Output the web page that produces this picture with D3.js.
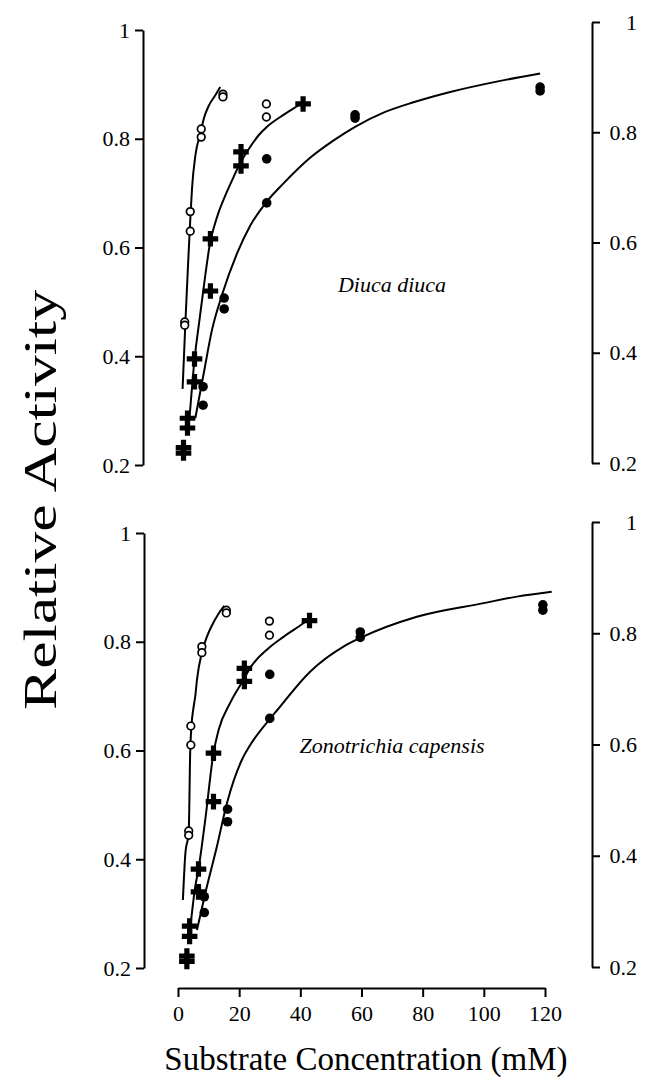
<!DOCTYPE html>
<html>
<head>
<meta charset="utf-8">
<script src="https://cdn.jsdelivr.net/npm/d3@7"></script>
<style>
  html, body { margin: 0; padding: 0; background: #fff; }
  svg { display: block; }
  text { font-family: "Liberation Serif", "Times New Roman", serif; fill: #000; }
</style>
</head>
<body>
<script>
// Axis ticks
const xTicks = [0, 20, 40, 60, 80, 100, 120];
const yTicks = [0.2, 0.4, 0.6, 0.8, 1];

// Diuca diuca: [substrate mM, relative activity]
const diucaOpen = [[2.2,0.463],[2.2,0.457],[4.0,0.666],[4.0,0.630],[7.6,0.818],[7.6,0.803],[14.7,0.882],[14.7,0.877],[28.9,0.864],[28.9,0.840]];
const diucaCross = [[1.8,0.232],[1.8,0.222],[3.1,0.286],[3.1,0.268],[5.4,0.395],[5.4,0.353],[10.6,0.616],[10.6,0.520],[20.6,0.776],[20.6,0.750],[40.9,0.864]];
const diucaFilled = [[8.2,0.344],[8.2,0.310],[15.1,0.507],[15.1,0.487],[29.0,0.763],[29.0,0.682],[57.9,0.844],[57.9,0.838],[118.4,0.895],[118.4,0.888]];
const diucaOpenFit = [[1.5,0.34],[2.4,0.46],[3.3,0.57],[4.0,0.65],[4.6,0.71],[5.7,0.77],[7.3,0.81],[8.6,0.84],[10.0,0.86],[12.2,0.88],[13.8,0.895]];
const diucaCrossFit = [[3.8,0.289],[5.4,0.394],[7.1,0.470],[8.9,0.548],[10.6,0.612],[12.0,0.642],[13.3,0.665],[15.8,0.700],[18.2,0.730],[20.6,0.758],[23.6,0.785],[26.3,0.806],[29.1,0.822],[34.5,0.844],[37.8,0.856],[41.0,0.866]];
const diucaFilledFit = [[5.65,0.286],[8.2,0.362],[11.1,0.448],[14.4,0.513],[19.3,0.589],[23.6,0.640],[29.1,0.685],[34.5,0.718],[43.2,0.765],[50.9,0.797],[57.9,0.822],[67.2,0.848],[77.0,0.867],[89.0,0.886],[105.0,0.906],[118.4,0.920]];

// Zonotrichia capensis
const zonoOpen = [[3.5,0.452],[3.5,0.444],[4.2,0.645],[4.2,0.610],[7.8,0.791],[7.8,0.780],[15.8,0.858],[15.8,0.853],[29.9,0.838],[29.9,0.812]];
const zonoCross = [[2.9,0.222],[2.9,0.212],[3.8,0.277],[3.8,0.258],[6.7,0.382],[6.7,0.340],[11.6,0.595],[11.6,0.506],[21.7,0.751],[21.7,0.727],[43.0,0.839]];
const zonoFilled = [[8.6,0.331],[8.6,0.302],[16.2,0.492],[16.2,0.469],[30.0,0.740],[30.0,0.659],[59.6,0.818],[59.6,0.808],[119.3,0.868],[119.3,0.858]];
const zonoOpenFit = [[1.6,0.325],[2.4,0.41],[3.5,0.45],[4.0,0.60],[4.4,0.645],[5.1,0.68],[5.65,0.70],[6.2,0.73],[7.8,0.78],[9.5,0.81],[11.1,0.83],[13.3,0.852],[15.1,0.866]];
const zonoCrossFit = [[4.0,0.273],[5.65,0.350],[6.7,0.382],[8.9,0.472],[11.6,0.595],[13.3,0.638],[17.1,0.688],[21.4,0.730],[23.6,0.752],[29.6,0.788],[34.5,0.809],[41.0,0.834],[42.2,0.839]];
const zonoFilledFit = [[6.2,0.270],[8.9,0.337],[12.7,0.423],[16.0,0.503],[20.9,0.583],[23.6,0.610],[30.2,0.659],[32.4,0.674],[43.2,0.745],[54.1,0.791],[59.6,0.807],[78.1,0.846],[99.9,0.871],[110.8,0.883],[122.2,0.892]];

const W = 652, H = 1078;
const svg = d3.select("body").append("svg").attr("width", W).attr("height", H);

const x = d3.scaleLinear().domain([0, 120]).range([178, 545]);

const panels = [
  { name: "Diuca diuca", yLeft: [465, 30], yRight: [463, 22], leftX: 143, rightX: 592, labelX: 392, labelY: 292,
    open: diucaOpen, cross: diucaCross, filled: diucaFilled,
    fits: [diucaOpenFit, diucaCrossFit, diucaFilledFit] },
  { name: "Zonotrichia capensis", yLeft: [968, 533], yRight: [967, 522], leftX: 144, rightX: 592, labelX: 392, labelY: 753,
    open: zonoOpen, cross: zonoCross, filled: zonoFilled,
    fits: [zonoOpenFit, zonoCrossFit, zonoFilledFit] }
];

const fmt = d => d === 1 ? "1" : d3.format(".1f")(d);
const tickFont = 22;

function styleAxis(g) {
  g.selectAll("path.domain").attr("stroke", "#000").attr("stroke-width", 2);
  g.selectAll(".tick line").attr("stroke", "#000").attr("stroke-width", 2);
  g.selectAll(".tick text").attr("font-size", tickFont).attr("font-family", "Liberation Serif");
}

panels.forEach(p => {
  const y = d3.scaleLinear().domain([0.2, 1]).range(p.yLeft);
  const yR = d3.scaleLinear().domain([0.2, 1]).range(p.yRight);

  const gl = svg.append("g").attr("transform", `translate(${p.leftX},0)`)
    .call(d3.axisLeft(y).tickValues(yTicks).tickFormat(fmt).tickSize(8).tickSizeOuter(0).tickPadding(5));
  styleAxis(gl);

  const gr = svg.append("g").attr("transform", `translate(${p.rightX},0)`)
    .call(d3.axisRight(yR).tickValues(yTicks).tickFormat(fmt).tickSize(8).tickSizeOuter(0).tickPadding(5));
  styleAxis(gr);
  gr.selectAll(".tick text").attr("text-anchor", "end").attr("x", 45);

  // fitted curves
  const line = d3.line().x(d => x(d[0])).y(d => y(d[1])).curve(d3.curveMonotoneX);
  svg.append("g").selectAll("path").data(p.fits).join("path")
    .attr("d", line).attr("fill", "none").attr("stroke", "#000").attr("stroke-width", 2);

  // open circles
  svg.append("g").selectAll("circle").data(p.open).join("circle")
    .attr("cx", d => x(d[0])).attr("cy", d => y(d[1])).attr("r", 3.8)
    .attr("fill", "#fff").attr("stroke", "#000").attr("stroke-width", 1.7);

  // crosses
  const cross = d3.symbol().type(d3.symbolCross).size(135);
  svg.append("g").selectAll("path").data(p.cross).join("path")
    .attr("d", cross).attr("transform", d => `translate(${x(d[0])},${y(d[1])})`).attr("fill", "#000");

  // filled circles
  svg.append("g").selectAll("circle").data(p.filled).join("circle")
    .attr("cx", d => x(d[0])).attr("cy", d => y(d[1])).attr("r", 4.8).attr("fill", "#000");

  svg.append("text").attr("x", p.labelX).attr("y", p.labelY)
    .attr("text-anchor", "middle").attr("font-style", "italic").attr("font-size", 22)
    .text(p.name);
});

const gx = svg.append("g").attr("transform", "translate(0,988)")
  .call(d3.axisBottom(x).tickValues(xTicks).tickFormat(d3.format("d")).tickSize(9).tickSizeOuter(0).tickPadding(8));
styleAxis(gx);

svg.append("text").attr("x", 366).attr("y", 1070).attr("text-anchor", "middle")
  .attr("font-size", 33).text("Substrate Concentration (mM)");

svg.append("text").attr("transform", "translate(56,500) rotate(-90)").attr("text-anchor", "middle")
  .attr("font-size", 46).attr("textLength", 420).attr("lengthAdjust", "spacingAndGlyphs")
  .text("Relative Activity");
</script>
</body>
</html>
